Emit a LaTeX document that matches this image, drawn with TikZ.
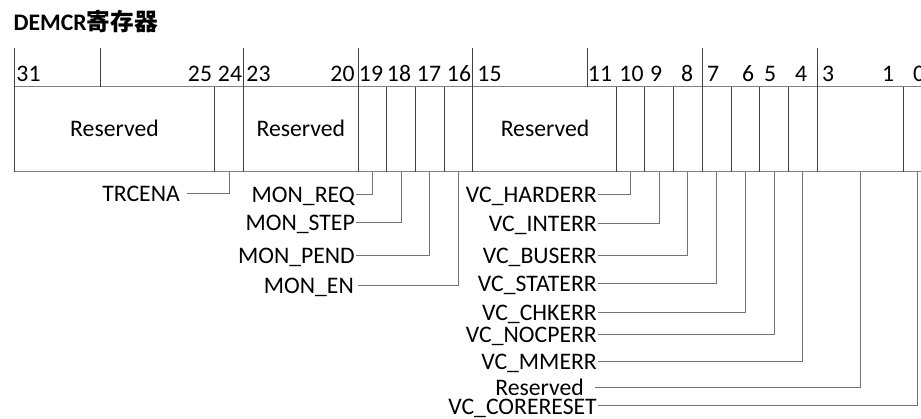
\documentclass[tikz,border=0pt]{standalone}
\usepackage{fontspec}
\setmainfont{Carlito}
\newfontfamily\cjk{Noto Sans CJK SC}
\begin{document}
\begin{tikzpicture}[x=1pt,y=-1pt,
  txt/.style={inner sep=0pt, font=\fontsize{23.7}{28}\selectfont},
  num/.style={txt, anchor=base},
  lab/.style={txt, anchor=east, text height=16pt, text depth=0pt},
  divider/.style={draw=black!75, line width=1pt},
  hline/.style={draw=black!50, line width=1pt},
  conn/.style={draw=black!55, line width=1pt}]
\useasboundingbox (0,0) rectangle (921,419);
\clip (0,0) rectangle (921,419);
\def\bw{28.68}
% bit centres on the lower edge of the register
\foreach \b in {0,...,31}{
  \coordinate (c\b) at ({14+(31.5-\b)*\bw},172);
}
\coordinate (cres) at (860.06,172);
% title
\node[txt, anchor=base west, font=\fontsize{23.7}{28}\selectfont\bfseries] (title) at (13.5,31) {DEMCR{\cjk\bfseries 寄存器}};
% register outline
\draw[hline] (14,87) -- (940,87);
\draw[hline] (14,172) -- (940,172);
\draw[divider] (14,48) -- (14,172);
\foreach \b in {24,23,19,18,17,16,15,10,9,8,7,6,5,4,3,0,-1}{
  \draw[divider] ({14+(31-\b)*\bw},87) -- ++(0,85);
}
\foreach \x in {100,243.44,358.16,472.88,587.6,702.32,817.04}{
  \draw[divider] (\x,48) -- (\x,87);
}
% bit numbers
\foreach \n/\x in {31/28.5,25/200,24/230,23/258.5,20/342.5,19/371,18/399,17/429,16/459,15/489.5,11/600,10/631.5,9/656,8/687,7/713,6/748,5/770,4/801,3/828,1/888,0/919}{
  \node[num] (n\n) at (\x,82) {\n};
}
% reserved fields
\node[num] (rA) at (114.5,137) {Reserved};
\node[num] (rB) at (300.8,137) {Reserved};
\node[num] (rC) at (545,137) {Reserved};
% labels
\node[lab] (trc) at (180,193.3) {TRCENA};
\node[lab] (mreq) at (355,195) {MON\_REQ};
\node[lab] (mstep) at (355,222.3) {MON\_STEP};
\node[lab] (mpend) at (355,256) {MON\_PEND};
\node[lab] (men) at (354,286) {MON\_EN};
\node[lab] (hard) at (597,195) {VC\_HARDERR};
\node[lab] (int) at (597,223.3) {VC\_INTERR};
\node[lab] (bus) at (597,256) {VC\_BUSERR};
\node[lab] (stat) at (597,284) {VC\_STATERR};
\node[lab] (chk) at (597,313) {VC\_CHKERR};
\node[lab] (nocp) at (597,335) {VC\_NOCPERR};
\node[lab] (mm) at (597,361.7) {VC\_MMERR};
\node[lab] (res) at (584,387.5) {Reserved};
\node[lab] (core) at (597,406) {VC\_CORERESET};
% connectors
\draw[conn] ([xshift=6.7pt]trc.east) -| (c24);
\draw[conn] ([xshift=1pt]mreq.east) -| (c19);
\draw[conn] ([xshift=1pt]mstep.east) -| (c18);
\draw[conn] ([xshift=1pt]mpend.east) -| (c17);
\draw[conn] ([xshift=4pt]men.east) -| (c16);
\draw[conn] ([xshift=1pt]hard.east) -| (c10);
\draw[conn] ([xshift=1pt]int.east) -| (c9);
\draw[conn] ([xshift=1pt]bus.east) -| (c8);
\draw[conn] ([xshift=1pt]stat.east) -| (c7);
\draw[conn] ([xshift=1pt]chk.east) -| (c6);
\draw[conn] ([xshift=1pt]nocp.east) -| (c5);
\draw[conn] ([xshift=1pt]mm.east) -| (c4);
\draw[conn] ([xshift=11pt]res.east) -| (cres);
\draw[conn] ([xshift=1pt]core.east) -| (c0);
\end{tikzpicture}
\end{document}
